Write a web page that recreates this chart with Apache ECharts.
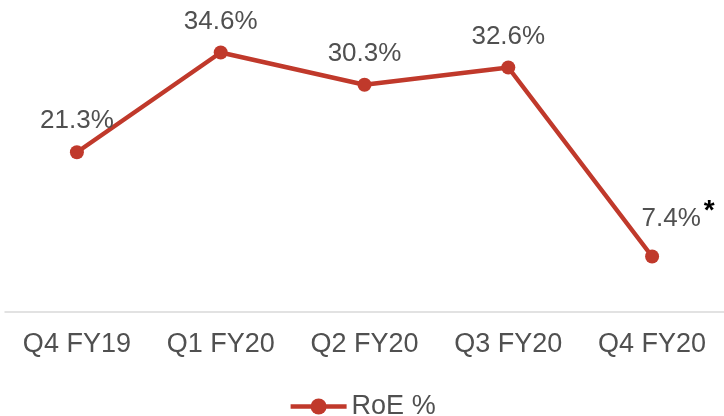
<!DOCTYPE html>
<html>
<head>
<meta charset="utf-8">
<script src="https://cdn.jsdelivr.net/npm/echarts@6/dist/echarts.min.js"></script>
<style>
  html, body { margin: 0; padding: 0; background: #fff; }
  #main { width: 724px; height: 416px; }
</style>
</head>
<body>
<div id="main"></div>
<script>
  var categories = ['Q4 FY19', 'Q1 FY20', 'Q2 FY20', 'Q3 FY20', 'Q4 FY20'];
  var roeValues = [21.3, 34.6, 30.3, 32.6, 7.4];
  var noteMark = ['', '', '', '', '*'];   // 最后一个点带星号

  var chart = echarts.init(document.getElementById('main'));

  var option = {
    backgroundColor: '#fff',
    textStyle: { fontFamily: 'Liberation Sans, Arial, sans-serif' },
    grid: { left: 5, right: 0, top: 12, bottom: 104, containLabel: false },
    legend: {
      top: 388,
      left: 'center',
      itemWidth: 56,
      itemHeight: 20,
      itemGap: 10,
      lineStyle: { width: 4.5 },
      textStyle: { fontSize: 27, color: '#505050' },
      data: ['RoE %']
    },
    xAxis: {
      type: 'category',
      data: categories,
      boundaryGap: true,
      axisLine: { lineStyle: { color: '#d9d9d9', width: 1.5 } },
      axisTick: { show: false },
      axisLabel: { fontSize: 27, color: '#505050', margin: 19 }
    },
    yAxis: {
      type: 'value',
      min: 0,
      max: 40,
      show: false,
      splitLine: { show: false }
    },
    series: [{
      name: 'RoE %',
      type: 'line',
      data: roeValues.map(function (v, i) {
        var item = { value: v };
        if (noteMark[i]) {
          item.label = {
            offset: [26, 1],
            formatter: '{a|' + v.toFixed(1) + '%}{b|' + noteMark[i] + '}'
          };
        }
        return item;
      }),
      color: '#c0392b',
      symbol: 'circle',
      symbolSize: 14,
      lineStyle: { width: 4.5, color: '#c0392b' },
      itemStyle: { color: '#c0392b' },
      label: {
        show: true,
        position: 'top',
        distance: 11,
        fontSize: 26,
        color: '#505050',
        formatter: function (p) { return p.value.toFixed(1) + '%'; },
        rich: {
          a: { fontSize: 26, color: '#505050' },
          b: { fontSize: 28, color: '#000', fontWeight: 'bold', padding: [0, 0, 14, 3] }
        }
      }
    }]
  };

  chart.setOption(option);
</script>
</body>
</html>
